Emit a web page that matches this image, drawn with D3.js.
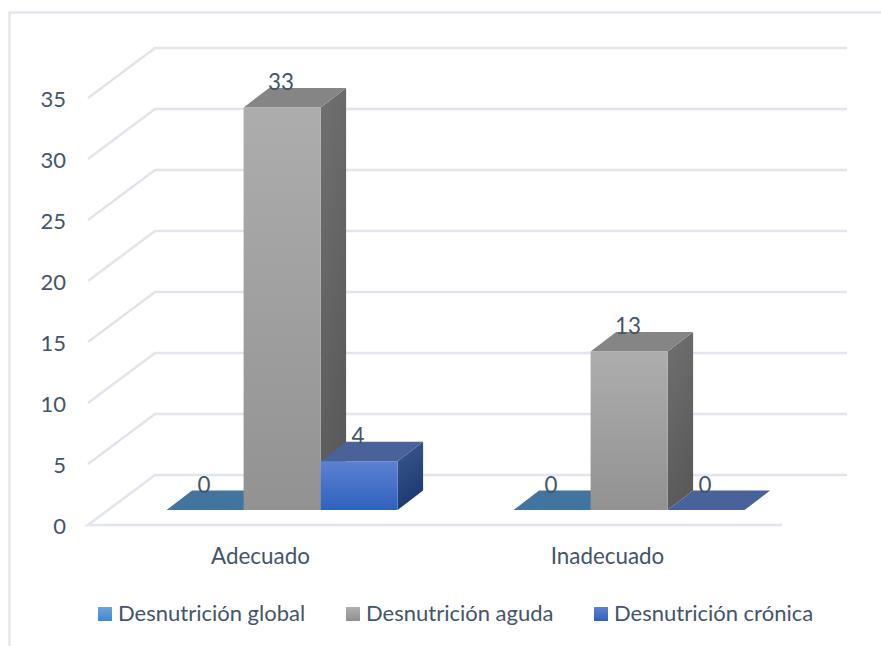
<!DOCTYPE html>
<html><head><meta charset="utf-8">
<script src="https://cdn.jsdelivr.net/npm/d3@7"></script>
<style>html,body{margin:0;padding:0;background:#fff}svg{display:block}text{font-family:Lato,"Open Sans",sans-serif;fill:#44546a}</style>
</head><body><svg id="c" width="881" height="646"></svg>
<script>
const categories = ["Adecuado", "Inadecuado"];
const seriesNames = ["Desnutrición global", "Desnutrición aguda", "Desnutrición crónica"];
const global = [0, 0];
const aguda = [33, 13];
const cronica = [4, 0];
const yTicks = [0, 5, 10, 15, 20, 25, 30, 35];
const seriesValues = [global, aguda, cronica];

const W = 881, H = 646;
const svg = d3.select("#c");
const defs = svg.append("defs");
function grad(id, a, b, diag) {
  const g = defs.append("linearGradient").attr("id", id).attr("x1", 0).attr("y1", 0).attr("x2", diag ? 0.3 : 0).attr("y2", 1);
  g.append("stop").attr("offset", 0).attr("stop-color", a);
  g.append("stop").attr("offset", 1).attr("stop-color", b);
}
const palette = [
  {front: ["#5b9bd5", "#3f83c8"], top: "#41759f", side: ["#3a6a96", "#2c5579"], sw: ["#6ba6dc", "#3f86cc"]},
  {front: ["#adadad", "#929292"], top: "#858585", side: ["#707070", "#5a5a5a"], sw: ["#b0b0b0", "#8f8f8f"]},
  {front: ["#5c81d1", "#2f62bc"], top: "#49629a", side: ["#3b5a8c", "#1c3a72"], sw: ["#5c81d1", "#2f62bc"]}
];
palette.forEach((p, i) => {
  grad("f" + i, p.front[0], p.front[1]);
  grad("s" + i, p.side[0], p.side[1], true);
  grad("l" + i, p.sw[0], p.sw[1]);
});

// frame
const frameColor = "#e3e6ed", gridColor = "#e2e5ed";
svg.append("path").attr("d", `M9.5 ${H}V12.5H${W}`).attr("fill", "none").attr("stroke", frameColor).attr("stroke-width", 2.4);

// scales
const frontLeft = 88, frontRight = 782, wallDx = 67, wallDy = -50;
const y = d3.scaleLinear().domain([0, 35]).range([525, 98]);
const x0 = d3.scaleBand().domain(categories).range([frontLeft, frontRight]);
const x1 = d3.scaleBand().domain(seriesNames).range([78.6, 309.6]);
const barBaseShift = -15, barDx = 25.5, barDy = -19.5;
const unit = y(0) - y(1);

// gridlines
const grid = svg.append("g").attr("fill", "none").attr("stroke", gridColor).attr("stroke-width", 2.6);
yTicks.forEach(t => {
  const v = y(t);
  const pts = t === 0
    ? [[frontRight, v], [frontLeft, v], [frontLeft + wallDx, v + wallDy], [frontRight + wallDx - 2, v + wallDy]]
    : [[frontLeft, v], [frontLeft + wallDx, v + wallDy], [frontRight + wallDx - 2, v + wallDy]];
  grid.append("path").attr("d", d3.line()(pts));
});

// axis labels
const yAxis = d3.axisLeft(y).tickValues(yTicks).tickSize(0).tickPadding(22);
const yg = svg.append("g").attr("transform", `translate(${frontLeft},1)`).call(yAxis);
yg.select(".domain").remove();
yg.selectAll("text").style("font-size", "22px").style("font-family", "Lato").attr("fill", "#44546a").attr("dy", "0.34em");

const xAxis = d3.axisBottom(x0).tickSize(0).tickPadding(0);
const xg = svg.append("g").attr("transform", "translate(-1,548)").call(xAxis);
xg.select(".domain").remove();
xg.selectAll("text").style("font-size", "22.4px").style("font-family", "Lato").attr("fill", "#44546a").attr("dy", "0.72em");

// bars, drawn left to right so each front face sits over its neighbour's side
const bars = svg.append("g");
const labels = [];
categories.forEach((c, ci) => {
  seriesNames.forEach((name, si) => {
    const val = seriesValues[si][ci];
    const xl = x0(c) + x1(name);
    const xr = xl + x1.bandwidth();
    const yb = y(0) + barBaseShift;
    const yt = yb - val * unit;
    const g = bars.append("g");
    if (val > 0) {
      g.append("path").attr("fill", `url(#s${si})`).attr("d", d3.line()([[xr, yt], [xr + barDx, yt + barDy], [xr + barDx, yb + barDy], [xr, yb]]) + "Z");
    }
    g.append("path").attr("fill", palette[si].top).attr("d", d3.line()([[xl, yt], [xl + barDx, yt + barDy], [xr + barDx, yt + barDy], [xr, yt]]) + "Z");
    if (val > 0) {
      g.append("rect").attr("x", xl).attr("y", yt).attr("width", xr - xl).attr("height", yb - yt).attr("fill", `url(#f${si})`);
    }
    labels.push({x: xl + 37.5, y: yt + barDy, v: val});
  });
});

svg.append("g").selectAll("text").data(labels).join("text")
  .attr("x", d => d.x).attr("y", d => d.y + 2).attr("text-anchor", "middle")
  .style("font-size", "22.4px").text(d => d.v);

// legend
const legendX = [98, 346, 594];
const lg = svg.append("g");
seriesNames.forEach((n, i) => {
  lg.append("rect").attr("x", legendX[i]).attr("y", 607).attr("width", 14).attr("height", 14).attr("fill", `url(#l${i})`);
  lg.append("text").attr("x", legendX[i] + 20).attr("y", 621).style("font-size", "22px").text(n);
});
</script></body></html>
